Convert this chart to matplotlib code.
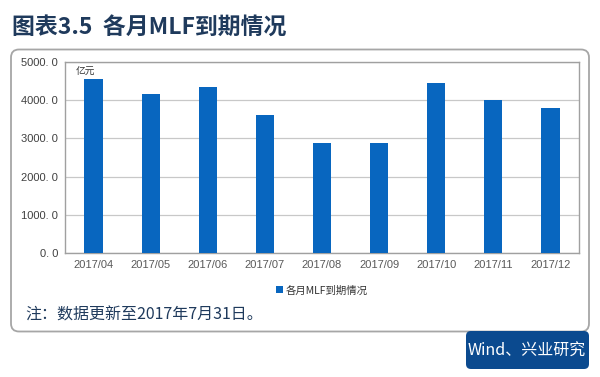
import matplotlib.pyplot as plt
from matplotlib.patches import FancyBboxPatch
import numpy as np

months = ["2017/04", "2017/05", "2017/06", "2017/07", "2017/08",
          "2017/09", "2017/10", "2017/11", "2017/12"]
mlf_due = [4550, 4150, 4350, 3620, 2890, 2870, 4440, 4010, 3800]
yticks = [0, 1000, 2000, 3000, 4000, 5000]
ytick_labels = ["0. 0", "1000. 0", "2000. 0", "3000. 0", "4000. 0", "5000. 0"]

CJK = ["Noto Sans CJK SC", "DejaVu Sans"]
NAVY = "#1f3a5c"
BAR = "#0866bf"

fig = plt.figure(figsize=(6, 3.77), dpi=100)

# background layer in pixel units
bg = fig.add_axes([0, 0, 1, 1])
bg.set_xlim(0, 600)
bg.set_ylim(377, 0)
bg.axis("off")
bg.add_patch(FancyBboxPatch((11, 49.5), 578, 282, boxstyle="round,pad=0,rounding_size=8",
                            fc="white", ec="#a6a6a6", lw=1.3))
bg.add_patch(FancyBboxPatch((466, 331), 123, 38, boxstyle="round,pad=0,rounding_size=5",
                            fc="#0b4a8f", ec="none"))
bg.text(12, 28, "图表3.5  各月MLF到期情况", family=CJK, fontsize=16.5, fontweight="bold",
        color=NAVY, va="center", ha="left")
bg.text(25, 315, "注：数据更新至2017年7月31日。", family=CJK, fontsize=11.5,
        color=NAVY, va="center", ha="left")
bg.text(527, 351, "Wind、兴业研究", family=CJK, fontsize=11.5, color="white",
        va="center", ha="center")

ax = fig.add_axes([65 / 600, 1 - 253 / 377, 514 / 600, 191 / 377])
x = np.arange(len(months))
ax.bar(x, mlf_due, width=0.32, color=BAR, label="各月MLF到期情况", zorder=3)
ax.set_xlim(-0.5, len(months) - 0.5)
ax.set_ylim(0, 5000)
ax.set_yticks(yticks)
ax.set_yticklabels(ytick_labels, family="Liberation Sans", fontsize=8, color="#404040")
ax.set_xticks(x)
ax.set_xticklabels(months, family="Liberation Sans", fontsize=8, color="#595959")
ax.tick_params(length=0, pad=5)
ax.grid(axis="y", color="#c8c8c8", lw=0.9, zorder=0)
for s in ax.spines.values():
    s.set_color("#a0a0a0")
    s.set_linewidth(1.0)
ax.text(0.02, 0.95, "亿元", transform=ax.transAxes, family=CJK, fontsize=7,
        color="#333333", style="italic", va="center")

leg = ax.legend(loc="upper center", bbox_to_anchor=(0.5, -0.12), frameon=False,
                prop=dict(family=CJK, size=7.5), handlelength=0.6, handleheight=0.6,
                handletextpad=0.3)
for t in leg.get_texts():
    t.set_color("#333333")

fig.savefig("out.png", dpi=100)
